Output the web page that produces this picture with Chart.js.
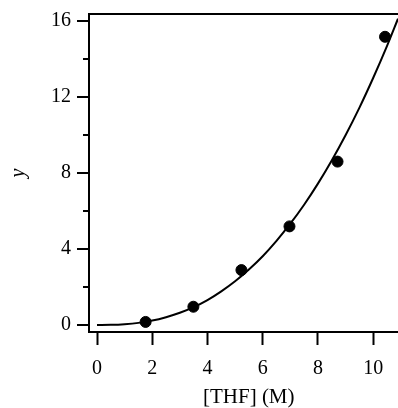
<!DOCTYPE html>
<html>
<head>
<meta charset="utf-8">
<script src="https://cdn.jsdelivr.net/npm/chart.js@4"></script>
<style>
  body { margin: 0; background: #fff; }
</style>
</head>
<body>
<canvas id="myChart" width="398" height="408"></canvas>
<script>
// measured points
var thf = [1.76, 3.49, 5.23, 6.97, 8.71, 10.43];
var yVals = [0.16, 0.96, 2.89, 5.19, 8.6, 15.17];

// fitted curve
var curveX = [0, 0.5, 1, 1.5, 2, 2.5, 3, 3.5, 4, 4.5, 5, 5.5, 6, 6.5, 7, 7.5, 8, 8.5, 9, 9.5, 10, 10.5, 10.9];
var curveY = [0, 0.007, 0.041, 0.11, 0.23, 0.41, 0.64, 0.94, 1.31, 1.77, 2.3, 2.92, 3.62, 4.43, 5.33, 6.33, 7.44, 8.66, 9.99, 11.43, 13.0, 14.68, 16.12];

var yMajor = [0, 4, 8, 12, 16];

var serif = "'Liberation Serif', serif";

// top frame line + y tick marks (major long, minor short)
var frame = {
    id: 'frame',
    afterDraw: function(chart) {
        var ctx = chart.ctx;
        var area = chart.chartArea;
        var ys = chart.scales.y;
        ctx.save();
        ctx.strokeStyle = '#000';
        ctx.lineWidth = 2;
        ctx.beginPath();
        ctx.moveTo(area.left - 1, area.top);
        ctx.lineTo(area.right, area.top);
        ys.ticks.forEach(function(t) {
            var py = Math.round(ys.getPixelForValue(t.value));
            var len = yMajor.indexOf(t.value) >= 0 ? 12 : 6;
            ctx.moveTo(area.left, py);
            ctx.lineTo(area.left - len, py);
        });
        ctx.stroke();
        ctx.restore();
    }
};

function noPad(s) {
    s.paddingTop = 0;
    s.paddingBottom = 0;
    s.paddingLeft = 0;
    s.paddingRight = 0;
}

var points = thf.map(function(x, i) { return {x: x, y: yVals[i]}; });
var curve = curveX.map(function(x, i) { return {x: x, y: curveY[i]}; });

var ctx = document.getElementById('myChart').getContext('2d');
var myChart = new Chart(ctx, {
    type: 'scatter',
    data: {
        datasets: [{
            type: 'line',
            data: curve,
            borderColor: '#000',
            borderWidth: 2,
            pointRadius: 0,
            cubicInterpolationMode: 'monotone',
            fill: false
        }, {
            data: points,
            backgroundColor: '#000',
            borderColor: '#000',
            pointRadius: 5.5,
            pointHoverRadius: 5.5
        }]
    },
    options: {
        responsive: false,
        animation: false,
        layout: { autoPadding: false, padding: { top: 14, right: 0, left: 0, bottom: 0 } },
        plugins: { legend: { display: false }, tooltip: { enabled: false } },
        scales: {
            x: {
                type: 'linear',
                min: -0.29,
                max: 10.9,
                afterFit: function(s) { s.height = 76; noPad(s); },
                border: { display: true, color: '#000', width: 2 },
                grid: { drawOnChartArea: false, drawTicks: true, tickLength: 13, tickColor: '#000', tickWidth: 2 },
                ticks: { stepSize: 2, includeBounds: false, color: '#000', padding: 12, maxRotation: 0,
                         font: { family: serif, size: 20 } },
                title: { display: true, text: '\u2002[THF] (M)', color: '#000', padding: { top: 0, bottom: -2 },
                         font: { family: serif, size: 21 } }
            },
            y: {
                type: 'linear',
                min: -0.37,
                max: 16.37,
                afterFit: function(s) { s.width = 89; noPad(s); },
                border: { display: true, color: '#000', width: 2 },
                grid: { drawOnChartArea: false, drawTicks: false },
                ticks: { stepSize: 2, includeBounds: false, color: '#000', padding: 18,
                         font: { family: serif, size: 20 },
                         callback: function(v) { return yMajor.indexOf(v) >= 0 ? v : ''; } },
                title: { display: true, text: 'y', color: '#000', padding: { top: 7, bottom: 0 },
                         font: { family: serif, size: 20, style: 'italic' } }
            }
        }
    },
    plugins: [frame]
});
</script>
</body>
</html>
